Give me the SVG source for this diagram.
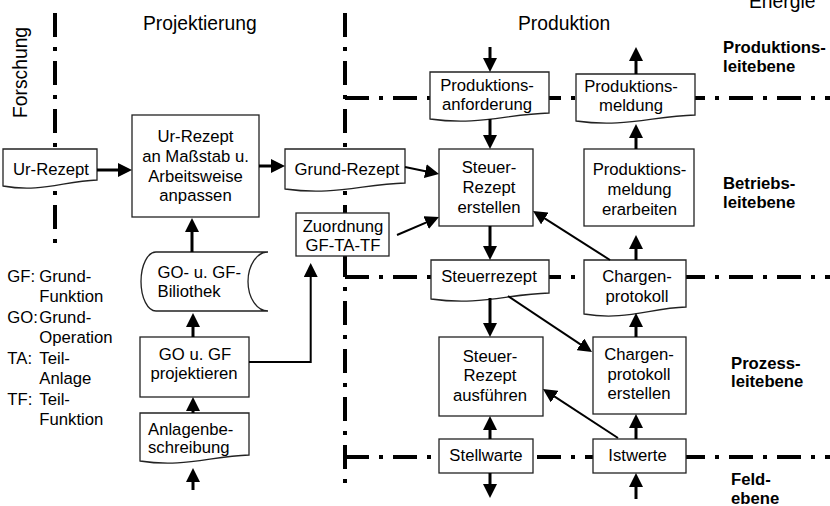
<svg xmlns="http://www.w3.org/2000/svg" width="830" height="506" viewBox="0 0 830 506">
  <style>
    text { font-family: "Liberation Sans", Arial, sans-serif; font-size: 16.7px; fill: #000; }
    .title { font-size: 19.3px; }
    .lvl { font-weight: bold; }
    .c { text-anchor: middle; }
    .node { fill: #fff; stroke: #222; stroke-width: 1.3; }
    .sep { fill: none; stroke: #000; stroke-width: 4; stroke-dasharray: 24 10 4 10; }
    .arr { fill: none; stroke: #000; stroke-width: 3; marker-end: url(#ah); }
    .thin { fill: none; stroke: #000; stroke-width: 2; marker-end: url(#ah); }
  </style>
  <defs>
    <marker id="ah" viewBox="0 0 14 14" markerWidth="14" markerHeight="14" refX="10" refY="7" orient="auto" markerUnits="userSpaceOnUse">
      <path d="M0,0 L14,7 L0,14 Z" fill="#000"/>
    </marker>
  </defs>

  <!-- area separators -->
  <g id="separators">
    <path class="sep" d="M55,13 V245"/>
    <path class="sep" d="M345,13 V485"/>
    <path class="sep" d="M345,98 H830"/>
    <path class="sep" d="M345,277 H830"/>
    <path class="sep" d="M345,457 H830"/>
  </g>

  <!-- headings -->
  <g id="headings">
    <text class="title" x="143" y="30">Projektierung</text>
    <text class="title" x="518" y="29.5">Produktion</text>
    <text class="title" x="749" y="7.5">Energie</text>
    <text class="title" transform="translate(27,118) rotate(-90)">Forschung</text>
  </g>

  <!-- level labels -->
  <g id="levels">
    <text class="lvl" x="723" y="53">Produktions-</text>
    <text class="lvl" x="723" y="71.5">leitebene</text>
    <text class="lvl" x="723" y="188.5">Betriebs-</text>
    <text class="lvl" x="723" y="208">leitebene</text>
    <text class="lvl" x="731" y="368.5">Prozess-</text>
    <text class="lvl" x="731" y="387">leitebene</text>
    <text class="lvl" x="731" y="485">Feld-</text>
    <text class="lvl" x="731" y="504">ebene</text>
  </g>

  <!-- abbreviations -->
  <g id="legend">
    <text x="7.3" y="281.5">GF:</text><text x="39.3" y="281.5">Grund-</text>
    <text x="39.3" y="302">Funktion</text>
    <text x="7.3" y="322.5">GO:</text><text x="39.3" y="322.5">Grund-</text>
    <text x="39.3" y="343">Operation</text>
    <text x="7.3" y="363.5">TA:</text><text x="39.3" y="363.5">Teil-</text>
    <text x="39.3" y="384">Anlage</text>
    <text x="7.3" y="404.5">TF:</text><text x="39.3" y="404.5">Teil-</text>
    <text x="39.3" y="425">Funktion</text>
  </g>

  <!-- nodes -->
  <g id="ur-rezept-doc">
    <path class="node" d="M3,149 H97 V180 C64,181 41,193 3,186 Z"/>
    <text class="c" x="51" y="175">Ur-Rezept</text>
  </g>
  <g id="ur-rezept-anpassen">
    <rect class="node" x="132" y="115" width="127" height="102"/>
    <text class="c" x="195.5" y="142">Ur-Rezept</text>
    <text class="c" x="195.5" y="161.5">an Maßstab u.</text>
    <text class="c" x="195.5" y="181.5">Arbeitsweise</text>
    <text class="c" x="195.5" y="201">anpassen</text>
  </g>
  <g id="bibliothek">
    <path class="node" d="M156,252 H268 A20,29.5 0 0 0 268,311 H156 A15,29.5 0 0 1 156,252 Z"/>
    <text x="157.5" y="277.5">GO- u. GF-</text>
    <text x="157.5" y="297">Biliothek</text>
  </g>
  <g id="go-gf-projektieren">
    <rect class="node" x="140" y="337" width="109" height="60"/>
    <text class="c" x="195" y="359.5">GO u. GF</text>
    <text class="c" x="194" y="379">projektieren</text>
  </g>
  <g id="anlagenbeschreibung">
    <path class="node" d="M140,413 H249 V455 C211,456 184,468 140,461 Z"/>
    <text x="148" y="434.5">Anlagenbe-</text>
    <text x="148" y="452.5">schreibung</text>
  </g>
  <g id="grund-rezept">
    <path class="node" d="M285,149 H405 V183 C363,184 335,196 285,189 Z"/>
    <text class="c" x="347" y="175">Grund-Rezept</text>
  </g>
  <g id="zuordnung">
    <rect class="node" x="296" y="213" width="93" height="43"/>
    <text class="c" x="343" y="231.5">Zuordnung</text>
    <text class="c" x="343" y="251">GF-TA-TF</text>
  </g>
  <g id="produktionsanforderung">
    <path class="node" d="M430,72 H549 V113 C507,114 479,126 430,119 Z"/>
    <text class="c" x="487" y="91">Produktions-</text>
    <text class="c" x="487" y="110">anforderung</text>
  </g>
  <g id="steuer-rezept-erstellen">
    <rect class="node" x="439" y="149" width="94" height="77"/>
    <text class="c" x="489" y="173">Steuer-</text>
    <text class="c" x="489" y="192.5">Rezept</text>
    <text class="c" x="489" y="212.5">erstellen</text>
  </g>
  <g id="steuerrezept">
    <path class="node" d="M431,260 H549 V293 C508,294 480,306 431,299 Z"/>
    <text class="c" x="489" y="282">Steuerrezept</text>
  </g>
  <g id="steuer-rezept-ausfuehren">
    <rect class="node" x="439" y="337" width="104" height="79"/>
    <text class="c" x="490" y="361.5">Steuer-</text>
    <text class="c" x="490" y="381">Rezept</text>
    <text class="c" x="490" y="400.5">ausführen</text>
  </g>
  <g id="stellwarte">
    <rect class="node" x="439" y="439" width="94" height="34"/>
    <text class="c" x="486" y="461">Stellwarte</text>
  </g>
  <g id="produktionsmeldung">
    <path class="node" d="M576,74 H695 V115 C653,116 625,128 576,121 Z"/>
    <text class="c" x="631" y="92">Produktions-</text>
    <text class="c" x="631" y="111">meldung</text>
  </g>
  <g id="produktionsmeldung-erarbeiten">
    <rect class="node" x="584" y="149" width="110" height="77"/>
    <text class="c" x="639.5" y="175">Produktions-</text>
    <text class="c" x="639.5" y="195">meldung</text>
    <text class="c" x="639.5" y="215">erarbeiten</text>
  </g>
  <g id="chargenprotokoll">
    <path class="node" d="M584,260 H686 V307 C650,308 626,321 584,314 Z"/>
    <text class="c" x="637" y="282">Chargen-</text>
    <text class="c" x="637" y="301.5">protokoll</text>
  </g>
  <g id="chargenprotokoll-erstellen">
    <rect class="node" x="593" y="337" width="93" height="77"/>
    <text class="c" x="639" y="360">Chargen-</text>
    <text class="c" x="639" y="379.5">protokoll</text>
    <text class="c" x="639" y="399">erstellen</text>
  </g>
  <g id="istwerte">
    <rect class="node" x="593" y="439" width="93" height="34"/>
    <text class="c" x="637.5" y="461">Istwerte</text>
  </g>

  <!-- connectors -->
  <g id="connectors">
    <path class="arr" d="M97,170 H128"/>
    <path class="arr" d="M259,166 H281"/>
    <path class="arr" d="M192,252 V222"/>
    <path class="arr" d="M193,337 V317"/>
    <path class="arr" d="M193,413 V401"/>
    <path class="arr" d="M193,490 V472"/>
    <path class="thin" d="M249,362 H310.7 V267"/>
    <path class="arr" d="M490,47 V68"/>
    <path class="arr" d="M490,119 V145"/>
    <path class="arr" d="M490,226 V256"/>
    <path class="arr" d="M490,298 V333"/>
    <path class="arr" d="M490,439 V420"/>
    <path class="arr" d="M490,473 V494"/>
    <path class="arr" d="M636,74 V51"/>
    <path class="arr" d="M636,149 V128"/>
    <path class="arr" d="M636,260 V239"/>
    <path class="arr" d="M636,337 V317"/>
    <path class="arr" d="M636,439 V418"/>
    <path class="arr" d="M636,499 V477"/>
    <path class="thin" d="M405,167 L435.1,173.2"/>
    <path class="thin" d="M397,235 L435.3,218.6"/>
    <path class="thin" d="M610,260 L536.4,213.1"/>
    <path class="thin" d="M508,296 L588.7,349.8"/>
    <path class="thin" d="M618,438 L546.3,391.2"/>
  </g>
</svg>
